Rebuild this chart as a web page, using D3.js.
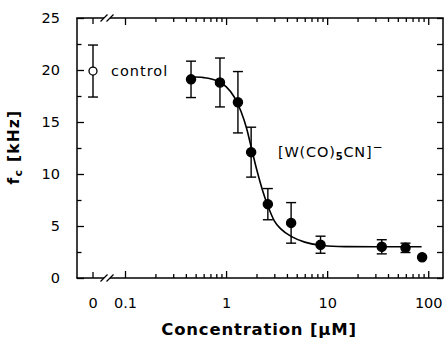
<!DOCTYPE html>
<html>
<head>
<meta charset="utf-8">
<script src="https://cdn.jsdelivr.net/npm/d3@7"></script>
<style>
  body { margin: 0; background: #fff; }
  svg { display: block; font-family: "DejaVu Sans", sans-serif; }
</style>
</head>
<body>
<div id="chart"></div>
<script>
// measured points: concentration (uM), fc (kHz), error (+/-)
var conc = [0.45, 0.87, 1.31, 1.77, 2.59, 4.4, 8.6, 34.7, 59.6, 87];
var fc = [19.1, 18.8, 16.9, 12.1, 7.1, 5.3, 3.2, 3.0, 2.9, 2.0];
var fcErr = [1.75, 2.35, 2.95, 2.4, 1.5, 1.95, 0.82, 0.68, 0.45, 0];

// control (no blocker), plotted at 0
var controlFc = 19.9;
var controlErr = 2.5;

// fitted curve
var fitConc = [0.45, 0.6, 0.8, 1.0, 1.2, 1.4, 1.6, 1.8, 2.0, 2.3, 2.6, 3.0, 3.5, 4.5, 6, 9, 15, 30, 86];
var fitFc = [19.35, 19.27, 18.99, 18.4, 17.43, 16.05, 14.35, 12.3, 10.5, 8.4, 6.9, 5.5, 4.7, 3.95, 3.45, 3.12, 3.02, 3.0, 3.0];

var xMajor = [0.1, 1, 10, 100];
var xMajorLabels = ["0.1", "1", "10", "100"];
var yMajor = [0, 5, 10, 15, 20, 25];
var yMinor = [2.5, 7.5, 12.5, 17.5, 22.5];

var W = 445, H = 343;
var frame = { left: 77, right: 443, top: 18, bottom: 278 };
var zeroX = 93;

var svg = d3.select("#chart").append("svg").attr("width", W).attr("height", H);

var x = d3.scaleLog().domain([0.1, 140]).range([125, frame.right]);
var y = d3.scaleLinear().domain([0, 25]).range([frame.bottom, frame.top]);

var xMinor = [];
[0.1, 1, 10].forEach(function(d) {
  for (var k = 2; k <= 9; k++) xMinor.push(+(d * k).toPrecision(2));
});

function styleAxis(g) {
  g.select(".domain").remove();
  g.attr("font-family", null).attr("font-size", null);
  g.selectAll(".tick line").attr("stroke", "#000").attr("stroke-width", 1.3);
  g.selectAll(".tick text").attr("fill", "#000").attr("font-size", 14.5)
    .attr("font-family", "DejaVu Sans");
  return g;
}

// axes, ticks pointing into the plot
function xAxis(gen, ty, vals, size, labels) {
  var a = gen(x).tickValues(vals).tickSize(size);
  if (!labels) a.tickFormat("");
  else a.tickFormat(function(d, i) { return labels[i]; });
  return styleAxis(svg.append("g").attr("transform", "translate(0," + ty + ")").call(a));
}
var bMaj = xAxis(d3.axisBottom, frame.bottom, xMajor, -7, xMajorLabels);
bMaj.selectAll(".tick text").attr("y", 30).attr("dy", null);
xAxis(d3.axisBottom, frame.bottom, xMinor, -4, null);
xAxis(d3.axisTop, frame.top, xMajor, -7, null);
xAxis(d3.axisTop, frame.top, xMinor, -4, null);

function yAxis(gen, tx, vals, size, withLabels) {
  var a = gen(y).tickValues(vals).tickSize(size).tickPadding(17);
  if (!withLabels) a.tickFormat("");
  return styleAxis(svg.append("g").attr("transform", "translate(" + tx + ",0)").call(a));
}
yAxis(d3.axisLeft, frame.left, yMajor, -7, true);
yAxis(d3.axisLeft, frame.left, yMinor, -4.5, false);
yAxis(d3.axisRight, frame.right, yMajor, -6, false);
yAxis(d3.axisRight, frame.right, yMinor, -6, false);

// the 0 position before the axis break
[frame.bottom, frame.top].forEach(function(ty, i) {
  var dir = i === 0 ? -1 : 1;
  svg.append("line").attr("x1", zeroX).attr("x2", zeroX)
    .attr("y1", ty).attr("y2", ty + dir * 6)
    .attr("stroke", "#000").attr("stroke-width", 1.3);
});
svg.append("text").attr("x", zeroX).attr("y", frame.bottom + 30)
  .attr("text-anchor", "middle").attr("font-size", 14.5).text("0");

// frame with breaks
var gapL = 104, gapR = 110;
var fr = svg.append("g").attr("stroke", "#000").attr("stroke-width", 1.5).attr("fill", "none");
fr.append("line").attr("x1", frame.left).attr("x2", frame.left).attr("y1", frame.top).attr("y2", frame.bottom);
fr.append("line").attr("x1", frame.right).attr("x2", frame.right).attr("y1", frame.top).attr("y2", frame.bottom);
[frame.top, frame.bottom].forEach(function(ty) {
  fr.append("line").attr("x1", frame.left - 0.75).attr("x2", gapL).attr("y1", ty).attr("y2", ty);
  fr.append("line").attr("x1", gapR).attr("x2", frame.right + 0.75).attr("y1", ty).attr("y2", ty);
  [gapL, gapR].forEach(function(gx) {
    fr.append("line").attr("x1", gx - 3.5).attr("x2", gx + 3.5)
      .attr("y1", ty + 3.5).attr("y2", ty - 3.5).attr("stroke-width", 1.2);
  });
});

// fitted curve
var fit = fitConc.map(function(c, i) { return { c: c, v: fitFc[i] }; });
svg.append("path").datum(fit)
  .attr("fill", "none").attr("stroke", "#000").attr("stroke-width", 1.6)
  .attr("d", d3.line().x(function(d) { return x(d.c); }).y(function(d) { return y(d.v); })
    .curve(d3.curveMonotoneX));

// error bars
var pts = conc.map(function(c, i) { return { x: x(c), v: fc[i], e: fcErr[i] }; });
var all = [{ x: zeroX, v: controlFc, e: controlErr, open: true }].concat(pts);
var eb = svg.append("g").attr("stroke", "#000").attr("stroke-width", 1.4);
all.filter(function(d) { return d.e > 0; }).forEach(function(d) {
  eb.append("line").attr("x1", d.x).attr("x2", d.x).attr("y1", y(d.v - d.e)).attr("y2", y(d.v + d.e));
  [d.v - d.e, d.v + d.e].forEach(function(v) {
    eb.append("line").attr("x1", d.x - 5).attr("x2", d.x + 5).attr("y1", y(v)).attr("y2", y(v));
  });
});

svg.append("g").selectAll("circle").data(all).join("circle")
  .attr("cx", function(d) { return d.x; })
  .attr("cy", function(d) { return y(d.v); })
  .attr("r", function(d) { return d.open ? 4 : 4.6; })
  .attr("fill", function(d) { return d.open ? "#fff" : "#000"; })
  .attr("stroke", "#000").attr("stroke-width", 1.3);

// annotations
svg.append("text").attr("x", 111).attr("y", y(controlFc) + 5)
  .attr("font-size", 14.5).attr("letter-spacing", 1).text("control");

var lbl = svg.append("text").attr("x", 278).attr("y", 157).attr("font-size", 14.5).attr("letter-spacing", 0.8);
lbl.append("tspan").text("[W(CO)");
lbl.append("tspan").attr("font-size", 10).attr("dy", 3).attr("font-weight", "bold").text("5");
lbl.append("tspan").attr("dy", -3).text("CN]");
lbl.append("tspan").attr("font-size", 12).attr("dy", -6).text("\u2212");

// axis titles
svg.append("text").attr("x", 259).attr("y", 335).attr("text-anchor", "middle")
  .attr("font-size", 16.5).attr("font-weight", "bold").attr("letter-spacing", 0.8)
  .text("Concentration [\u03bcM]");

var yt = svg.append("text").attr("transform", "translate(19,147) rotate(-90)")
  .attr("text-anchor", "middle").attr("font-size", 15.5).attr("font-weight", "bold").attr("letter-spacing", 1.2);
yt.append("tspan").text("f");
yt.append("tspan").attr("font-size", 11).attr("dy", 3).text("c");
yt.append("tspan").attr("dy", -3).text("  [kHz]");
</script>
</body>
</html>
